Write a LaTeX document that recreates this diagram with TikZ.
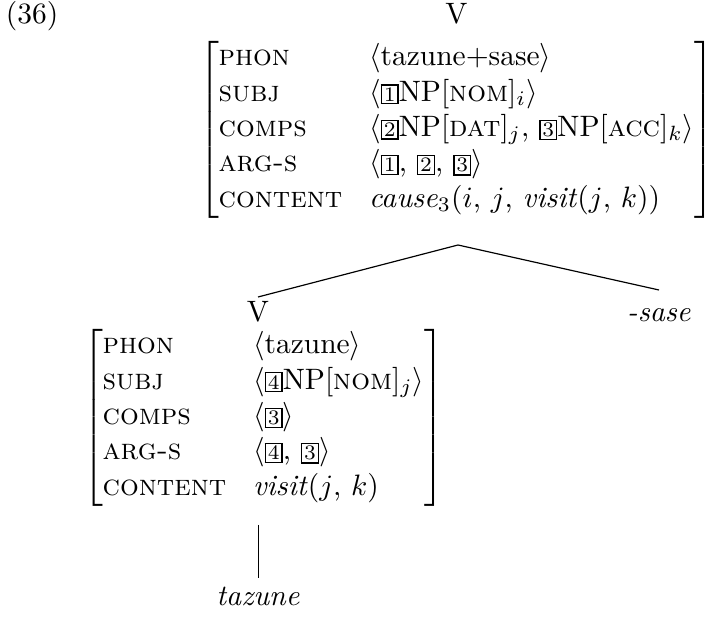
\documentclass[tikz,border=0pt]{standalone}
\usepackage{array}
\setlength{\fboxsep}{0.6pt}
\setlength{\fboxrule}{0.5pt}
\newcommand{\tagbox}[1]{\fbox{\scriptsize #1}}
\begin{document}
\begin{tikzpicture}[x=0.339pt,y=-0.339pt,
  txt/.style={inner sep=0pt,outer sep=0pt,anchor=base west},
  ctxt/.style={inner sep=0pt,outer sep=0pt,anchor=base},
  avmbox/.style={inner sep=0pt,outer sep=0pt,anchor=north west},
  branch/.style={line width=0.4pt}]
\useasboundingbox (0,0) rectangle (713,623);
% label
\node[txt] (ex) at (6,24) {(36)};
% top AVM
\node[avmbox] (avm1) at (199,41) {$\left[\begin{tabular}{@{}p{51pt}@{}l@{}}
\textsc{phon} & $\langle$tazune+sase$\rangle$\\
\textsc{subj} & $\langle$\tagbox{1}NP[\textsc{nom}]$_i\rangle$\\
\textsc{comps} & $\langle$\tagbox{2}NP[\textsc{dat}]$_j$, \tagbox{3}NP[\textsc{acc}]$_k\rangle$\\
\textsc{arg-s} & $\langle$\tagbox{1}, \tagbox{2}, \tagbox{3}$\rangle$\\
\textsc{content} & \textit{cause}$_3$($i$, $j$, \textit{visit}($j$, $k$))
\end{tabular}\right]$};
% top category
\node[ctxt] (vtop) at (avm1.north |- 0,24) {V};
% tree branches
\coordinate (apex) at (458,245);
\node[ctxt] (vbot) at (258,322) {V};
\node[ctxt] (sase) at (659,322) {\textit{-sase}};
\draw[branch] (apex) -- (vbot.north |- 0,297);
\draw[branch] (apex) -- (sase.north |- 0,290);
% bottom AVM
\node[avmbox] (avm2) at (83,329) {$\left[\begin{tabular}{@{}p{51pt}@{}l@{}}
\textsc{phon} & $\langle$tazune$\rangle$\\
\textsc{subj} & $\langle$\tagbox{4}NP[\textsc{nom}]$_j\rangle$\\
\textsc{comps} & $\langle$\tagbox{3}$\rangle$\\
\textsc{arg-s} & $\langle$\tagbox{4}, \tagbox{3}$\rangle$\\
\textsc{content} & \textit{visit}($j$, $k$)
\end{tabular}\right]$};
% leaf
\coordinate (stem) at (258.4,525);
\node[ctxt] (leaf) at (258,606) {\textit{tazune}};
\draw[branch] (stem) -- (stem |- 0,578);
\end{tikzpicture}
\end{document}
